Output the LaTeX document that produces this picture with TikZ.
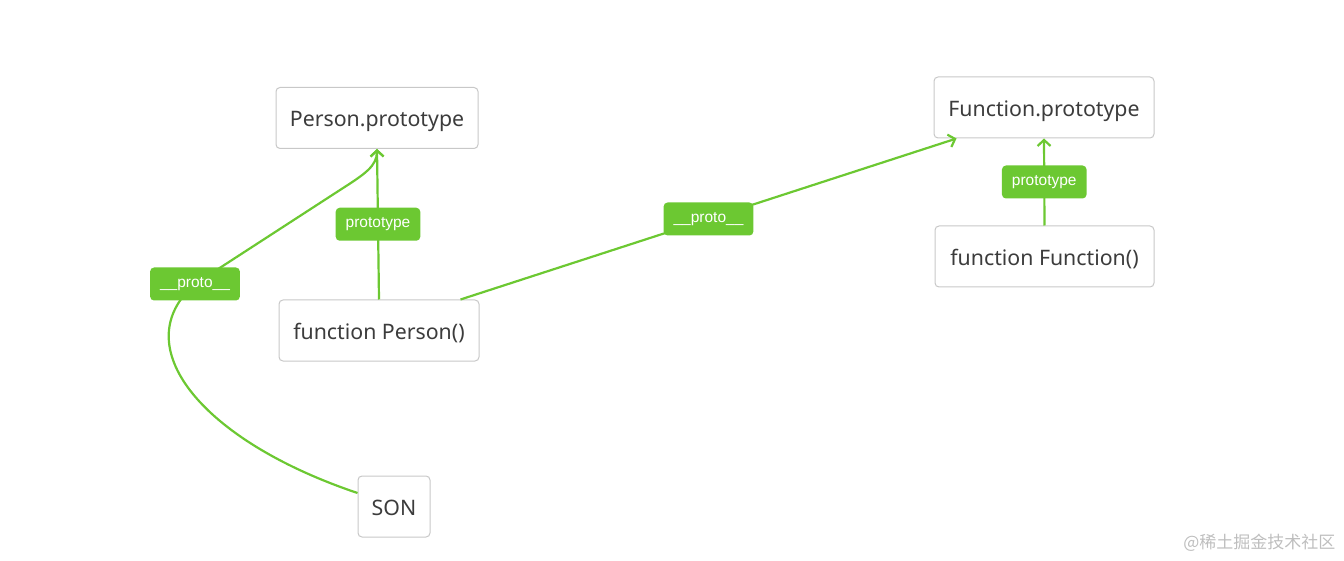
\documentclass[tikz,border=0pt]{standalone}
\usepackage{fontspec}
\setmainfont{Noto Sans}
\newfontfamily\lblfont{Liberation Sans}
\newfontfamily\cjkfont{Noto Sans CJK SC}
\usetikzlibrary{arrows.meta,calc}
\definecolor{edgegreen}{RGB}{108,200,50}
\definecolor{boxgray}{RGB}{200,200,200}
\definecolor{textgray}{RGB}{60,60,60}
\definecolor{markgray}{RGB}{190,190,190}
\begin{document}
\begin{tikzpicture}[x=1pt,y=-1pt,
  box/.style={draw=boxgray, line width=1pt, rounded corners=4pt, fill=white,
    text=textgray, font=\fontsize{21.3}{25}\selectfont, minimum height=61pt, inner xsep=2pt,
    text height=17.4pt, text depth=0pt},
  lbl/.style={fill=edgegreen, rounded corners=4pt, text=white,
    font=\lblfont\fontsize{15.5}{18}\selectfont, minimum height=33pt, inner xsep=10pt, inner ysep=0pt},
  link/.style={draw=edgegreen, line width=2.2pt},
  arr/.style={-{Straight Barb[length=6pt,width=13pt]}}]
\useasboundingbox (0,0) rectangle (1344,561);

\node[box, minimum width=202pt] (ppro) at (377,118) {Person.prototype};
\node[box, minimum width=200pt] (fperson) at (379,330.5) {function Person()};
\node[box, minimum width=72pt] (son) at (394,506.5) {SON};
\node[box, minimum width=220pt] (fpro) at (1044,107.5) {Function.prototype};
\node[box, minimum width=219pt] (ffun) at (1044.5,256.5) {function Function()};

\draw[link,arr] (fperson.north) -- node[lbl]{prototype} (ppro.south);
\draw[link,arr] ([xshift=-19pt]fperson.north east) -- node[lbl]{\_\_proto\_\_} ([xshift=23pt]fpro.south west);
\draw[link,arr] (ffun.north) -- node[lbl]{prototype} (fpro.south);
\draw[link,arr] ([yshift=13.5pt]son.west) .. controls (200,440) and (125,345) .. (195,284)
  node[lbl]{\_\_proto\_\_} -- (340,190) .. controls (365,174) and (377,166) .. (ppro.south);

\node[anchor=east, text=markgray, font=\cjkfont\fontsize{17}{20}\selectfont] (mark) at (1339,543) {@稀土掘金技术社区};
\end{tikzpicture}
\end{document}
